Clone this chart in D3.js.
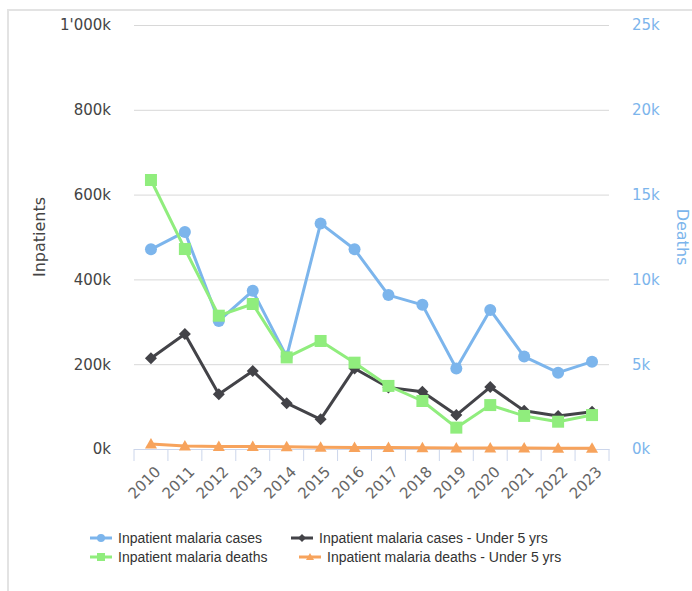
<!DOCTYPE html>
<html>
<head>
<meta charset="utf-8">
<script src="https://cdn.jsdelivr.net/npm/d3@7"></script>
<style>
  body { margin: 0; background: #fff; }
  svg { display: block; font-family: 'DejaVu Sans', sans-serif; }
</style>
</head>
<body>
<svg id="chart" width="692" height="591"></svg>
<script>
// Data
const years = ['2010', '2011', '2012', '2013', '2014', '2015', '2016', '2017', '2018', '2019', '2020', '2021', '2022', '2023']
const inpatientCases = [471000, 512000, 302000, 373000, 218000, 532000, 471000, 363000, 340000, 190000, 328000, 218000, 180000, 206000]
const inpatientCasesU5 = [214000, 271000, 129000, 184000, 108000, 70000, 190000, 145000, 135000, 80000, 146000, 90000, 78000, 88000]
const inpatientDeaths = [15860, 11790, 7860, 8550, 5400, 6370, 5090, 3720, 2830, 1260, 2590, 1950, 1610, 2000]
const inpatientDeathsU5 = [300, 180, 150, 150, 140, 100, 90, 90, 70, 60, 60, 60, 50, 50]
const leftTicks = [0, 200000, 400000, 600000, 800000, 1000000]
const rightTicks = [0, 5000, 10000, 15000, 20000, 25000]

const svg = d3.select('#chart')

// plot area
const plot = { left: 134, right: 609, top: 25, bottom: 449 }

// outer container border
svg.append('path')
  .attr('d', 'M8,700 L8,10 L700,10')
  .attr('fill', 'none')
  .attr('stroke', '#e3e3e3')
  .attr('stroke-width', 2)

const x = d3.scaleBand().domain(years).range([plot.left, plot.right]).padding(0)
const yL = d3.scaleLinear().domain([0, 1000000]).range([plot.bottom, plot.top])
const yR = d3.scaleLinear().domain([0, 25000]).range([plot.bottom, plot.top])
const cx = (d) => x(d) + x.bandwidth() / 2

const loc = d3.formatLocale({ decimal: '.', thousands: "'", grouping: [3], currency: ['', ''] })
const fmtK = (d) => loc.format(',')(d / 1000) + 'k'

// grid + left axis
const gL = svg.append('g')
  .attr('transform', `translate(${plot.left},0)`)
  .call(d3.axisLeft(yL).tickValues(leftTicks).tickFormat(fmtK).tickSize(-(plot.right - plot.left)).tickPadding(23))
gL.select('.domain').remove()
gL.selectAll('.tick line').attr('stroke', '#d8d8d8')
gL.selectAll('.tick text').attr('fill', '#444').style('font-size', '15px').style('font-family', 'DejaVu Sans')

// right axis
const gR = svg.append('g')
  .attr('transform', `translate(${plot.right},0)`)
  .call(d3.axisRight(yR).tickValues(rightTicks).tickFormat((d) => d / 1000 + 'k').tickSize(0).tickPadding(23))
gR.select('.domain').remove()
gR.selectAll('.tick text').attr('fill', '#7cb5ec').style('font-size', '15px').style('font-family', 'DejaVu Sans')

// x axis
const gX = svg.append('g')
  .attr('transform', `translate(0,${plot.bottom})`)
  .call(d3.axisBottom(x).tickSize(0).tickPadding(0))
gX.select('.domain').attr('stroke', '#ccd6eb')
gX.selectAll('.tick text')
  .attr('fill', '#666')
  .style('font-size', '15px')
  .style('font-family', 'DejaVu Sans')
  .attr('text-anchor', 'end')
  .attr('transform', 'translate(3,16) rotate(-45)')
  .attr('dy', '0.72em')
  .attr('y', 0)
const edges = years.map((d) => x(d)).concat([plot.right])
svg.append('g').selectAll('line').data(edges).join('line')
  .attr('x1', (d) => d).attr('x2', (d) => d)
  .attr('y1', plot.bottom).attr('y2', plot.bottom + 12)
  .attr('stroke', '#ccd6eb')

// axis titles
svg.append('text')
  .attr('transform', `translate(45,${(plot.top + plot.bottom) / 2}) rotate(-90)`)
  .attr('text-anchor', 'middle')
  .attr('fill', '#444')
  .style('font-size', '16px')
  .text('Inpatients')
svg.append('text')
  .attr('transform', `translate(677,${(plot.top + plot.bottom) / 2}) rotate(90)`)
  .attr('text-anchor', 'middle')
  .attr('fill', '#7cb5ec')
  .style('font-size', '16px')
  .text('Deaths')

// marker shapes
const shapes = {
  circle: (r) => `M${-r},0 A${r},${r} 0 1,0 ${r},0 A${r},${r} 0 1,0 ${-r},0Z`,
  square: (r) => `M${-r},${-r} H${r} V${r} H${-r}Z`,
  diamond: (r) => `M0,${-r} L${r},0 L0,${r} L${-r},0Z`,
  triangle: (r) => `M0,${-r} L${r},${r * 0.75} L${-r},${r * 0.75}Z`
}

const series = [
  { name: 'Inpatient malaria cases', values: inpatientCases, y: yL, color: '#7cb5ec', shape: 'circle', r: 6 },
  { name: 'Inpatient malaria cases - Under 5 yrs', values: inpatientCasesU5, y: yL, color: '#434348', shape: 'diamond', r: 6 },
  { name: 'Inpatient malaria deaths', values: inpatientDeaths, y: yR, color: '#90ed7d', shape: 'square', r: 6 },
  { name: 'Inpatient malaria deaths - Under 5 yrs', values: inpatientDeathsU5, y: yR, color: '#f7a35c', shape: 'triangle', r: 6 }
]

series.forEach((s) => {
  const pts = years.map((yr, j) => [cx(yr), s.y(s.values[j])])
  svg.append('path')
    .datum(pts)
    .attr('d', d3.line())
    .attr('fill', 'none')
    .attr('stroke', s.color)
    .attr('stroke-width', 3)
    .attr('stroke-linejoin', 'round')
  svg.append('g').selectAll('path').data(pts).join('path')
    .attr('transform', (d) => `translate(${d[0]},${d[1]})`)
    .attr('d', shapes[s.shape](s.r))
    .attr('fill', s.color)
})

// legend
const legendPos = [
  { sx: 101, tx: 118, y: 538 },
  { sx: 302, tx: 319, y: 538 },
  { sx: 101, tx: 118, y: 557 },
  { sx: 310, tx: 327, y: 557 }
]
series.forEach((s, k) => {
  const p = legendPos[k]
  const g = svg.append('g')
  g.append('line')
    .attr('x1', p.sx - 11).attr('x2', p.sx + 11)
    .attr('y1', p.y).attr('y2', p.y)
    .attr('stroke', s.color).attr('stroke-width', 3)
  g.append('path')
    .attr('transform', `translate(${p.sx},${p.y})`)
    .attr('d', shapes[s.shape](4))
    .attr('fill', s.color)
  g.append('text')
    .attr('x', p.tx).attr('y', p.y)
    .attr('dy', '0.35em')
    .attr('fill', '#333')
    .style('font-family', "'Liberation Sans', Arial, sans-serif")
    .style('font-size', '14px')
    .text(s.name)
})
</script>
</body>
</html>
